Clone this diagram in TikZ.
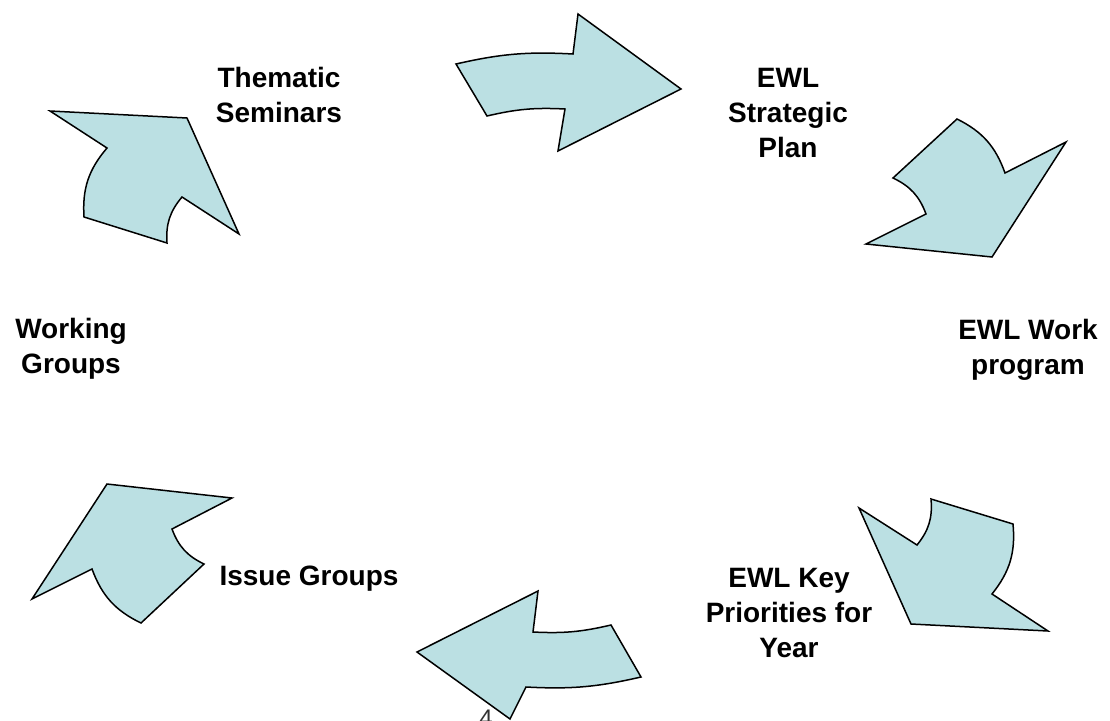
\documentclass[tikz,border=0pt]{standalone}
\usepackage{fontspec}
\setmainfont{Liberation Sans}
\definecolor{arrfill}{RGB}{187,224,227}
\tikzset{
  lbl/.style={anchor=base, inner sep=0pt, font=\fontsize{28}{35}\selectfont\bfseries},
  carrow/.style={fill=arrfill, draw=black, line width=1.5pt, line join=miter}
}
\newcommand{\lines}[1]{\begin{tabular}[t]{@{}c@{}}#1\end{tabular}}
\begin{document}
\begin{tikzpicture}[x=1pt,y=-1pt]
\useasboundingbox[fill=white] (0,0) rectangle (1110,720);
% page number (partly hidden under an arrow)
\node[anchor=base, inner sep=0pt, font=\fontsize{24}{28}\selectfont, text=black!80] (pg) at (486,726) {4};
% labels
\node[lbl] (ts) at (279,87) {\lines{Thematic\\Seminars}};
\node[lbl] (sp) at (788,87) {\lines{EWL\\Strategic\\Plan}};
\node[lbl] (wp) at (1028,339) {\lines{EWL Work\\program}};
\node[lbl] (kp) at (789,587) {\lines{EWL Key\\Priorities for\\Year}};
\node[lbl] (ig) at (309,585) {\lines{Issue Groups}};
\node[lbl] (wg) at (71,338) {\lines{Working\\Groups}};
% arrow 1 (top)
\filldraw[carrow] (456,64) to[bend left=8] (573,54) -- (578,14) -- (681,89) -- (558,151) -- (565,109) to[bend right=8] (487,116) -- cycle;
% arrow 2 (upper right)
\filldraw[carrow] (957,119) to[bend left=22] (1005,173) -- (1066,142) -- (992,257) -- (866,244) -- (926,214) to[bend right=22] (893,178) -- cycle;
% arrow 3 (lower right)
\filldraw[carrow] (931,499) -- (1013,524) to[bend left=22] (992,594) -- (1048,631) -- (911,624) -- (859,508) -- (917,545) to[bend right=22] cycle;
% arrow 4 (bottom)
\filldraw[carrow] (611,625) to[bend left=8] (533,632) -- (538,591) -- (417,652) -- (510,719) -- (526,687) to[bend right=8] (641,677) -- cycle;
% arrow 5 (lower left)
\filldraw[carrow] (107,484) -- (232,498) -- (172,529) to[bend right=22] (204,564) -- (141,623) to[bend left=22] (92,569) -- (32,599) -- cycle;
% arrow 6 (upper left)
\filldraw[carrow] (50,111) -- (187,118) -- (239,234) -- (182,197) to[bend right=22] (167,243) -- (84,217) to[bend left=22] (107,148) -- cycle;
\end{tikzpicture}
\end{document}
